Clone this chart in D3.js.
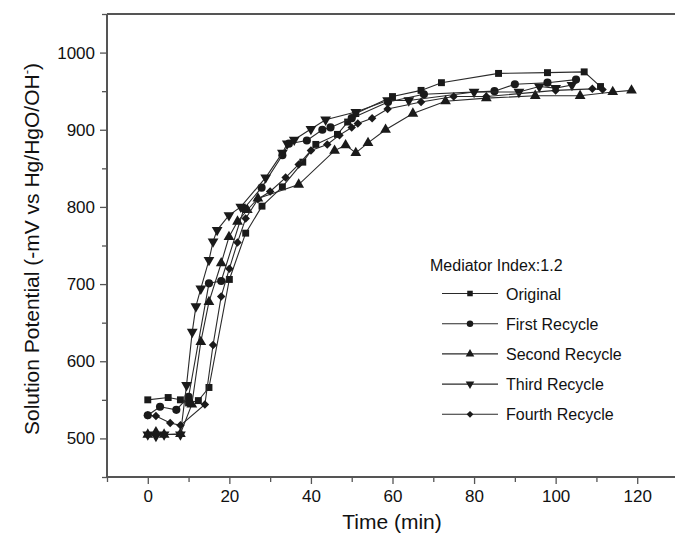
<!DOCTYPE html>
<html>
  <head>
    <meta charset="utf-8">
    <title>Solution potential vs time</title>
    <script src="https://d3js.org/d3.v7.min.js"></script>
    <style>
      body { margin: 0; background: #fff; }
      svg { font-family: "Liberation Sans", Arial, sans-serif; }
    </style>
  </head>
  <body>
  <svg id="chart" width="675" height="534"></svg>
  <script>
    // series (time in min, potential in -mV)
    var tOriginal = [0, 5, 8, 10, 12.4, 15, 20, 24, 28, 33, 38, 41.2, 46.5, 49, 51, 60, 67, 72, 86, 98, 107, 111];
    var vOriginal = [550, 553, 550, 546, 549, 566, 706, 766, 801, 826, 858, 881, 894, 910, 921, 943, 951, 961, 973, 974, 975, 956];

    var tFirst = [0, 3, 7, 10, 15, 18, 23.6, 27.9, 33, 34.6, 39, 42.8, 44.8, 50, 58.9, 67.7, 85, 90, 98, 105];
    var vFirst = [530, 541, 537, 554, 701, 704, 798, 825, 867, 882, 886, 900, 903, 915, 936, 946, 950, 959, 961, 965];

    var tSecond = [0, 2, 4, 8, 10.8, 13, 15, 18, 19.9, 22, 24.4, 27, 37, 45.8, 48.5, 51, 54, 58.3, 65, 73, 83, 95, 106, 114, 118.6];
    var vSecond = [505, 508, 505, 506, 544, 625, 677, 727, 761, 781, 796, 811, 829, 873, 880, 870, 883, 900, 921, 937, 941, 944, 944, 949, 951];

    var tThird = [0, 2, 4, 8, 9.5, 10.9, 11.8, 13, 15, 16, 17, 19.9, 22.8, 28.9, 33, 34.2, 35.9, 40, 43.6, 51, 58.8, 64, 80, 91, 96, 100, 104];
    var vThird = [505, 503, 505, 505, 569, 638, 671, 694, 731, 755, 770, 789, 800, 838, 870, 882, 887, 901, 913, 923, 938, 938, 949, 949, 956, 954, 958];

    var tFourth = [0, 2, 5.5, 8, 14, 16, 18, 20, 22, 24, 27, 30, 33.8, 37, 40, 44, 47, 50, 51.5, 55, 58.8, 67, 75, 83, 100, 109, 111.5];
    var vFourth = [530, 529, 520, 517, 544, 621, 684, 720, 754, 785, 810, 820, 838, 855, 873, 881, 893, 903, 908, 915, 927, 936, 943, 943, 951, 953, 952];

    var seriesNames = ["Original", "First Recycle", "Second Recycle", "Third Recycle", "Fourth Recycle"];
    var xMajorTicks = [0, 20, 40, 60, 80, 100, 120];
    var xMinorTicks = [-10, 10, 30, 50, 70, 90, 110, 130];
    var yMajorTicks = [500, 600, 700, 800, 900, 1000];
    var yMinorTicks = [450, 550, 650, 750, 850, 950, 1050];

    var series = [
      { name: seriesNames[0], t: tOriginal, v: vOriginal, shape: "square" },
      { name: seriesNames[1], t: tFirst, v: vFirst, shape: "circle" },
      { name: seriesNames[2], t: tSecond, v: vSecond, shape: "up" },
      { name: seriesNames[3], t: tThird, v: vThird, shape: "down" },
      { name: seriesNames[4], t: tFourth, v: vFourth, shape: "diamond" }
    ];

    // plot area edges
    var padLeft = 107, padTop = 14, padBottom = 477;
    var svg = d3.select("#chart");

    var x = d3.scaleLinear().domain([-10, 130]).range([padLeft, 678]);
    var y = d3.scaleLinear().domain([450, 1050]).range([padBottom, padTop]);

    var axisColor = "#555";

    // symbols
    function markerPath(shape, s) {
      if (shape === "square") return d3.symbol(d3.symbolSquare, 48 * s * s)();
      if (shape === "circle") return d3.symbol(d3.symbolCircle, 52 * s * s)();
      if (shape === "up" || shape === "down") return d3.symbol(d3.symbolTriangle, 50 * s * s)();
      return d3.symbol(d3.symbolSquare, 36 * s * s)();
    }
    function markerRot(shape) {
      if (shape === "down") return " rotate(180)";
      if (shape === "diamond") return " rotate(45)";
      return "";
    }

    // axes
    var gx = svg.append("g").attr("transform", "translate(0," + padBottom + ")");
    gx.call(d3.axisBottom(x).tickValues(xMajorTicks).tickSize(7).tickPadding(6).tickFormat(d3.format("d")));
    gx.append("g").call(d3.axisBottom(x).tickValues(xMinorTicks).tickSize(5).tickFormat(""));
    gx.selectAll(".domain").attr("d", "M" + padLeft + ",0H680");

    var gy = svg.append("g").attr("transform", "translate(" + padLeft + ",0)");
    gy.call(d3.axisLeft(y).tickValues(yMajorTicks).tickSize(7).tickPadding(5).tickFormat(d3.format("d")));
    gy.append("g").call(d3.axisLeft(y).tickValues(yMinorTicks).tickSize(5).tickFormat(""));
    gy.selectAll(".domain").attr("d", "M0," + padTop + "V" + padBottom);

    svg.selectAll(".domain").attr("stroke", axisColor).attr("stroke-width", 2);
    svg.selectAll(".tick line").attr("stroke", axisColor).attr("stroke-width", 1.3);
    svg.selectAll(".tick text").attr("fill", "#111").style("font-size", "17px")
      .style("font-family", "'Liberation Sans', Arial, sans-serif");

    // top frame line
    svg.append("line")
      .attr("x1", padLeft).attr("x2", 680)
      .attr("y1", padTop).attr("y2", padTop)
      .attr("stroke", axisColor).attr("stroke-width", 2);

    // lines and markers
    var line = d3.line().x(function(d) { return x(d[0]); }).y(function(d) { return y(d[1]); });

    series.forEach(function(s) {
      var pts = s.t.map(function(t, i) { return [t, s.v[i]]; });
      svg.append("path")
        .datum(pts)
        .attr("d", line)
        .attr("fill", "none")
        .attr("stroke", "#2a2a2a")
        .attr("stroke-width", 1.1);
      svg.append("g").selectAll("path")
        .data(pts)
        .enter()
        .append("path")
        .attr("d", markerPath(s.shape, 1))
        .attr("transform", function(d) { return "translate(" + x(d[0]) + "," + y(d[1]) + ")" + markerRot(s.shape); })
        .attr("fill", "#1a1a1a");
    });

    // axis titles
    svg.append("text")
      .attr("x", 392).attr("y", 529)
      .attr("text-anchor", "middle")
      .style("font-size", "21px")
      .attr("fill", "#111")
      .text("Time (min)");

    var yt = svg.append("text")
      .attr("transform", "translate(39,249) rotate(-90)")
      .attr("text-anchor", "middle")
      .style("font-size", "21px")
      .attr("fill", "#111");
    yt.append("tspan").text("Solution Potential (-mV vs Hg/HgO/OH");
    yt.append("tspan").attr("dy", -8).style("font-size", "13px").text("-");
    yt.append("tspan").attr("dy", 8).text(")");

    // legend
    var lg = svg.append("g");
    lg.append("text")
      .attr("x", 430).attr("y", 271)
      .style("font-size", "16px")
      .attr("fill", "#111")
      .text("Mediator Index:1.2");

    var rows = lg.selectAll(".row")
      .data(series)
      .enter()
      .append("g")
      .attr("class", "row")
      .attr("transform", function(d, i) { return "translate(0," + (293.5 + i * 30.2) + ")"; });
    rows.append("line")
      .attr("x1", 442).attr("x2", 498)
      .attr("stroke", "#2a2a2a").attr("stroke-width", 1.1);
    rows.append("path")
      .attr("d", function(d) { return markerPath(d.shape, 0.8); })
      .attr("transform", function(d) { return "translate(470,0)" + markerRot(d.shape); })
      .attr("fill", "#1a1a1a");
    rows.append("text")
      .attr("x", 506).attr("y", 6)
      .style("font-size", "16px")
      .attr("fill", "#111")
      .text(function(d) { return d.name; });
  </script>
  </body>
</html>
